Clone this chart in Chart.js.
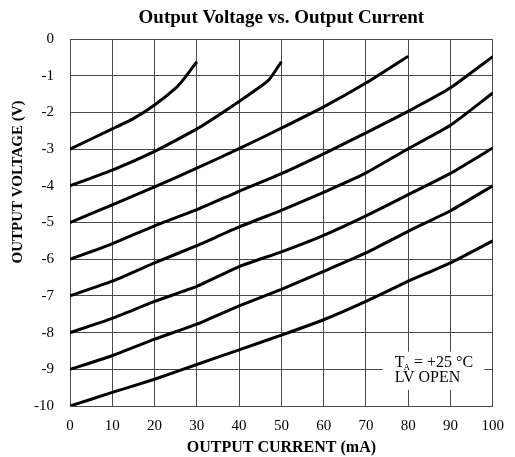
<!DOCTYPE html>
<html>
<head>
<meta charset="utf-8">
<title>Output Voltage vs. Output Current</title>
<script src="https://cdn.jsdelivr.net/npm/chart.js@4/dist/chart.umd.min.js"></script>
<style>
  html, body { margin: 0; padding: 0; background: #fff; overflow: hidden; }
  #wrap { width: 515px; height: 457px; }
</style>
</head>
<body>
<div id="wrap"><canvas id="chart" width="515" height="457"></canvas></div>
<script>
/* ── data (mA, V) ── */
const currentA = [0, 10, 15, 20, 25, 27, 30];
const voltA    = [-3, -2.45, -2.17, -1.8, -1.34, -1.08, -0.62];

const currentB = [0, 10, 20, 30, 40, 47, 50];
const voltB    = [-4, -3.57, -3.06, -2.45, -1.7, -1.12, -0.62];

const currentC = [0, 10, 20, 30, 40, 50, 60, 70, 80];
const voltC    = [-5, -4.52, -4.03, -3.52, -2.99, -2.43, -1.85, -1.2, -0.47];

const currentFull = [0, 10, 20, 30, 40, 50, 60, 70, 80, 90, 100];
const voltD = [-6, -5.58, -5.09, -4.65, -4.15, -3.67, -3.13, -2.56, -1.97, -1.33, -0.48];
const voltE = [-7, -6.6, -6.1, -5.63, -5.12, -4.67, -4.18, -3.65, -2.99, -2.35, -1.47];
const voltF = [-8, -7.61, -7.15, -6.74, -6.2, -5.8, -5.35, -4.82, -4.24, -3.66, -2.97];
const voltG = [-9, -8.63, -8.18, -7.77, -7.27, -6.82, -6.33, -5.83, -5.24, -4.68, -4.0];
const voltH = [-10, -9.63, -9.27, -8.87, -8.47, -8.07, -7.65, -7.15, -6.6, -6.1, -5.5];

const series = [
  [currentA, voltA], [currentB, voltB], [currentC, voltC],
  [currentFull, voltD], [currentFull, voltE], [currentFull, voltF],
  [currentFull, voltG], [currentFull, voltH],
];

const xRange = [0, 100, 10];   // min, max, step
const yRange = [-10, 0, 1];

const SERIF = "'Liberation Serif', 'Times New Roman', serif";
const GRID  = '#4a4a4a';

/* ── y axis title, sits a bit above centre like the original ── */
const yTitlePlugin = {
  id: 'yTitle',
  afterDraw(chart) {
    const ctx = chart.ctx;
    ctx.save();
    ctx.translate(18, 182);
    ctx.rotate(-Math.PI / 2);
    ctx.font = `bold 15px ${SERIF}`;
    ctx.fillStyle = '#000';
    ctx.textAlign = 'center';
    ctx.textBaseline = 'middle';
    ctx.fillText('OUTPUT VOLTAGE (V)', 0, 0);
    ctx.restore();
  }
};

/* ── T_A = +25 °C / LV OPEN note with white box over grid ── */
const notePlugin = {
  id: 'note',
  beforeDatasetsDraw(chart) {
    const { ctx, scales: { x, y } } = chart;
    const x0 = x.getPixelForValue(74), x1 = x.getPixelForValue(98);
    const y0 = y.getPixelForValue(-8.52), y1 = y.getPixelForValue(-9.56);
    ctx.save();
    ctx.fillStyle = '#fff';
    ctx.fillRect(x0, y0, x1 - x0, y1 - y0);

    const tx = x.getPixelForValue(76.8);
    const l1 = y.getPixelForValue(-8.82);
    const l2 = y.getPixelForValue(-9.24);
    ctx.fillStyle = '#000';
    ctx.textBaseline = 'middle';
    ctx.textAlign = 'left';
    ctx.font = `16px ${SERIF}`;
    ctx.fillText('T', tx, l1);
    const tw = ctx.measureText('T').width;
    ctx.font = `9px ${SERIF}`;
    ctx.fillText('A', tx + tw - 1, l1 + 5);
    const aw = ctx.measureText('A').width;
    ctx.font = `16px ${SERIF}`;
    ctx.fillText(' = +25 °C', tx + tw + aw - 1, l1);
    ctx.fillText('LV OPEN', tx, l2);
    ctx.restore();
  }
};

new Chart(document.getElementById('chart'), {
  type: 'line',
  data: {
    datasets: series.map(([xs, ys], i) => ({
      label: 'curve ' + (i + 1),
      data: xs.map((v, j) => ({ x: v, y: ys[j] })),
      borderColor: '#000',
      borderWidth: 3,
      pointRadius: 0,
      tension: 0.15,
      fill: false,
    })),
  },
  options: {
    responsive: false,
    animation: false,
    layout: { padding: { left: 0, right: 13, top: 0, bottom: 0 } },
    plugins: {
      legend: { display: false },
      tooltip: { enabled: false },
      title: {
        display: true,
        fullSize: false,
        text: 'Output Voltage vs. Output Current',
        color: '#000',
        font: { family: SERIF, size: 19, weight: 'bold' },
        padding: { top: 6.6, bottom: 9.6 },
      },
    },
    scales: {
      x: {
        type: 'linear',
        min: xRange[0], max: xRange[1],
        afterFit: s => { s.height = 51; },
        grid: { color: GRID, lineWidth: 1, drawTicks: false },
        border: { color: GRID },
        ticks: {
          stepSize: xRange[2], padding: 11, color: '#000',
          font: { family: SERIF, size: 15 },
        },
        title: {
          display: true,
          text: 'OUTPUT CURRENT (mA)',
          color: '#000',
          font: { family: SERIF, size: 16, weight: 'bold' },
          padding: { top: 0, bottom: 0 },
        },
      },
      y: {
        type: 'linear',
        min: yRange[0], max: yRange[1],
        afterFit: s => { s.width = 70; },
        grid: { color: GRID, lineWidth: 1, drawTicks: false },
        border: { color: GRID },
        ticks: {
          stepSize: yRange[2], padding: 16, color: '#000',
          font: { family: SERIF, size: 15 },
        },
      },
    },
  },
  plugins: [yTitlePlugin, notePlugin],
});
</script>
</body>
</html>
